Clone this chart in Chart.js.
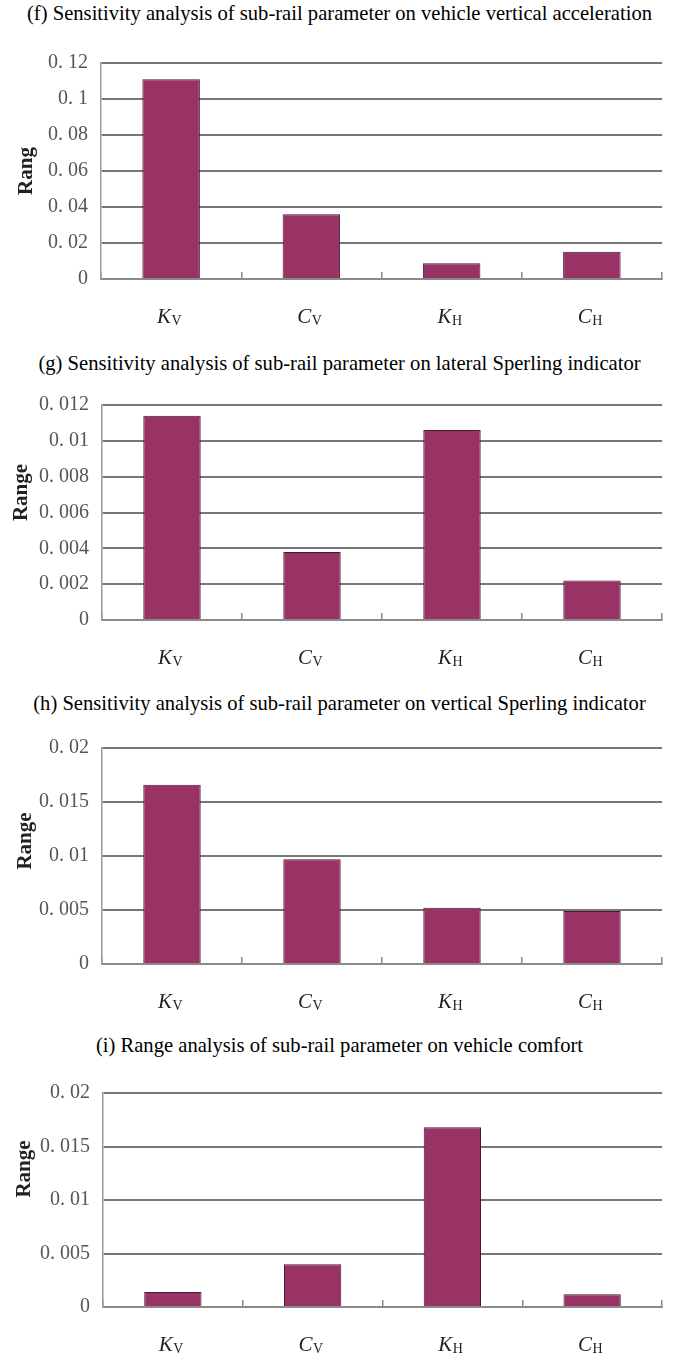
<!DOCTYPE html>
<html>
<head>
<meta charset="utf-8">
<script src="https://cdn.jsdelivr.net/npm/chart.js@4.4.1/dist/chart.umd.min.js"></script>
<style>
  html, body { margin: 0; padding: 0; background: #fff; }
  #page { position: relative; width: 679px; height: 1357px; overflow: hidden; background: #fff; }
  .ttl {
    position: absolute; left: 0; width: 679px; text-align: center;
    font-family: 'Liberation Serif', 'Times New Roman', serif; font-size: 20.6px;
    color: #000; white-space: nowrap; line-height: 22px;
  }
  canvas { position: absolute; left: 0; }
</style>
</head>
<body>
<div id="page"></div>
<script>
// Sub-rail parameters (italic symbol + roman subscript)
const categories = ['KV', 'CV', 'KH', 'CH'];
const catSymbol = ['K', 'C', 'K', 'C'];
const catSubscript = ['V', 'V', 'H', 'H'];

// Range of each response for the four sub-rail parameters
const accelRange    = [0.111, 0.036, 0.0087, 0.0152];
const lateralRange  = [0.0114, 0.0038, 0.0106, 0.0022];
const verticalRange = [0.0166, 0.0097, 0.0052, 0.0049];
const comfortRange  = [0.0014, 0.0040, 0.0168, 0.0012];

// Axis tick labels
const accelTicks    = ['0', '0. 02', '0. 04', '0. 06', '0. 08', '0. 1', '0. 12'];
const lateralTicks  = ['0', '0. 002', '0. 004', '0. 006', '0. 008', '0. 01', '0. 012'];
const sperlingTicks = ['0', '0. 005', '0. 01', '0. 015', '0. 02'];

const titles = [
  '(f) Sensitivity analysis of sub-rail parameter on vehicle vertical acceleration',
  '(g) Sensitivity analysis of sub-rail parameter on lateral Sperling indicator',
  '(h) Sensitivity analysis of sub-rail parameter on vertical Sperling indicator',
  '(i) Range analysis of sub-rail parameter on vehicle comfort'
];
const yTitles = ['Rang', 'Range', 'Range', 'Range'];

// Page layout for the four stacked panels
const panels = [
  { values: accelRange,    ticks: accelTicks,    max: 0.12,  step: 0.02,
    titleY: 2,    top: 58,   bottom: 279,  left: 101, yTitleX: 27, yTitleShift: 0 },
  { values: lateralRange,  ticks: lateralTicks,  max: 0.012, step: 0.002,
    titleY: 352,  top: 400,  bottom: 620,  left: 102, yTitleX: 22, yTitleShift: -20 },
  { values: verticalRange, ticks: sperlingTicks, max: 0.02,  step: 0.005,
    titleY: 692,  top: 743,  bottom: 964,  left: 102, yTitleX: 26, yTitleShift: -15 },
  { values: comfortRange,  ticks: sperlingTicks, max: 0.02,  step: 0.005,
    titleY: 1034, top: 1088, bottom: 1307, left: 103, yTitleX: 25, yTitleShift: -31 }
];

const PAGE_W = 679;
const PLOT_RIGHT = 662;
const TOP_PAD = 20;
const X_AXIS_H = 50;
const SERIF = "'Liberation Serif', 'Times New Roman', serif";

// Category labels such as K with subscript V, drawn under each bar
const subscriptLabels = {
  id: 'subscriptLabels',
  afterDraw(chart) {
    const xs = chart.scales.x;
    const ctx = chart.ctx;
    const mainFont = 'italic 21px ' + SERIF;
    const subFont = '14px ' + SERIF;
    ctx.save();
    ctx.fillStyle = '#222';
    ctx.textBaseline = 'alphabetic';
    ctx.textAlign = 'left';
    catSymbol.forEach((sym, i) => {
      const cx = xs.getPixelForValue(i);
      ctx.font = mainFont;
      const w1 = ctx.measureText(sym).width;
      ctx.font = subFont;
      const w2 = ctx.measureText(catSubscript[i]).width;
      const x0 = cx - (w1 + w2) / 2 - 2;
      const base = xs.top + 44;
      ctx.font = mainFont;
      ctx.fillText(sym, x0, base);
      ctx.font = subFont;
      ctx.fillText(catSubscript[i], x0 + w1 + 0.5, base + 2);
    });
    ctx.restore();
  }
};

// Rotated bold axis name beside the value ticks
const valueAxisName = {
  id: 'valueAxisName',
  afterDraw(chart, args, opts) {
    const area = chart.chartArea;
    const ctx = chart.ctx;
    ctx.save();
    ctx.translate(opts.x, (area.top + area.bottom) / 2 + opts.shift);
    ctx.rotate(-Math.PI / 2);
    ctx.textAlign = 'center';
    ctx.textBaseline = 'middle';
    ctx.font = 'bold 21px ' + SERIF;
    ctx.fillStyle = '#222';
    ctx.fillText(opts.text, 0, 0);
    ctx.restore();
  }
};

const page = document.getElementById('page');

panels.forEach((p, idx) => {
  const t = document.createElement('div');
  t.className = 'ttl';
  t.style.top = p.titleY + 'px';
  t.textContent = titles[idx];
  page.appendChild(t);

  const plotH = p.bottom - p.top;
  const canvas = document.createElement('canvas');
  const h = TOP_PAD + plotH + X_AXIS_H;
  canvas.width = PAGE_W;
  canvas.height = h;
  canvas.style.width = PAGE_W + 'px';
  canvas.style.height = h + 'px';
  canvas.style.top = (p.top - TOP_PAD) + 'px';
  page.appendChild(canvas);

  new Chart(canvas, {
    type: 'bar',
    data: {
      labels: categories,
      datasets: [{
        data: p.values,
        backgroundColor: '#993366',
        borderColor: '#4a1630',
        borderWidth: 1,
        barPercentage: 0.41,
        categoryPercentage: 1
      }]
    },
    options: {
      responsive: false,
      animation: false,
      devicePixelRatio: 1,
      layout: { padding: { top: TOP_PAD, right: PAGE_W - PLOT_RIGHT, bottom: 0, left: 0 } },
      plugins: {
        legend: { display: false },
        tooltip: { enabled: false },
        valueAxisName: { text: yTitles[idx], x: p.yTitleX, shift: p.yTitleShift }
      },
      scales: {
        x: {
          grid: {
            display: true, offset: true, drawOnChartArea: false,
            drawTicks: true, tickLength: -7, color: '#8a8a8a', lineWidth: 1.5
          },
          border: { display: true, color: '#8a8a8a', width: 2 },
          ticks: { display: false },
          afterFit(scale) { scale.height = X_AXIS_H; }
        },
        y: {
          min: 0, max: p.max,
          ticks: {
            stepSize: p.step, padding: 13, color: '#555',
            font: { family: SERIF, size: 20 },
            callback: (v, i) => p.ticks[i]
          },
          grid: { color: '#777', lineWidth: 2, drawTicks: false },
          border: { display: true, color: '#9a9a9a', width: 1.5 },
          afterFit(scale) { scale.width = p.left; }
        }
      }
    },
    plugins: [subscriptLabels, valueAxisName]
  });
});
</script>
</body>
</html>
